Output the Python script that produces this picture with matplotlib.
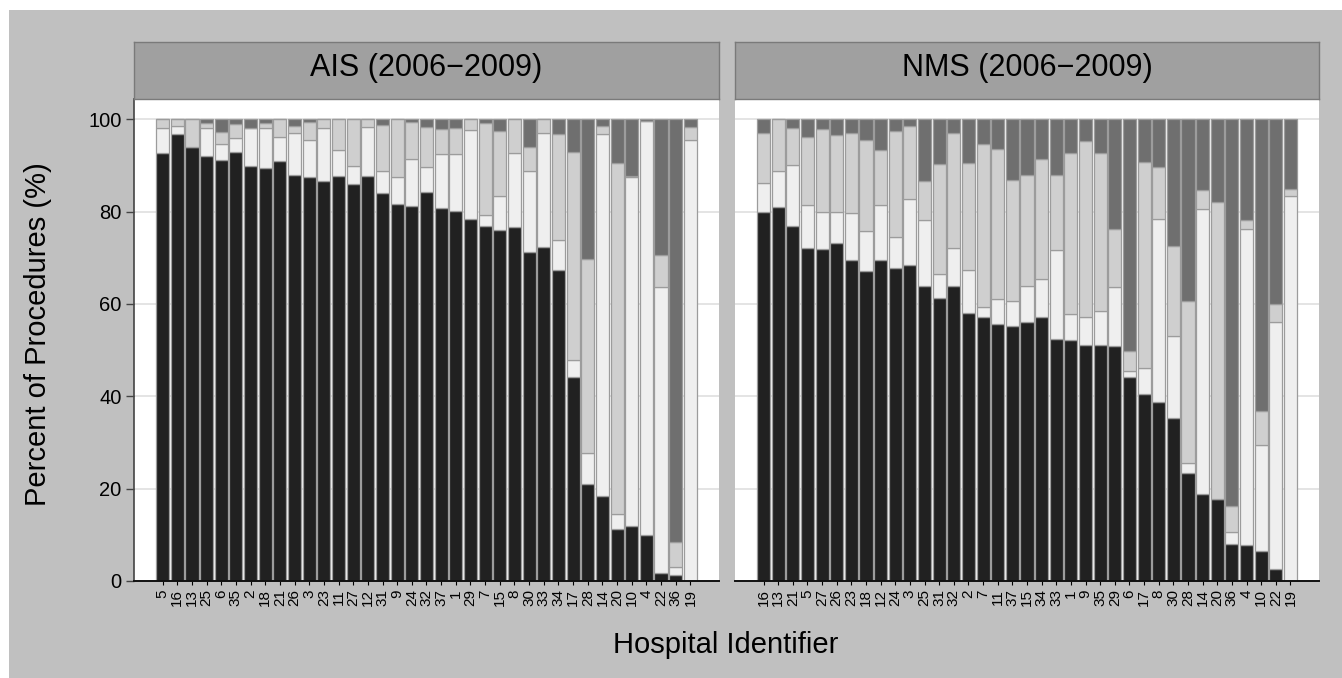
import matplotlib
matplotlib.use("Agg")
import matplotlib.pyplot as plt
import numpy as np

plt.rcParams['font.family'] = ['Liberation Sans', 'DejaVu Sans']

# hospital order per panel
ais_ids = ['5', '16', '13', '25', '6', '35', '2', '18', '21', '26', '3', '23', '11', '27', '12', '31', '9', '24', '32',
           '37', '1', '29', '7', '15', '8', '30', '33', '34', '17', '28', '14', '20', '10', '4', '22', '36', '19']
nms_ids = ['16', '13', '21', '5', '27', '26', '23', '18', '12', '24', '3', '25', '31', '32', '2', '7', '11', '37', '15',
           '34', '33', '1', '9', '35', '29', '6', '17', '8', '30', '28', '14', '20', '36', '4', '10', '22', '19']

# AIS (2006-2009), percent of procedures, bottom to top
ais_black = [92.6, 96.8, 94.0, 92.1, 91.1, 93.0, 89.8, 89.5, 91.0, 88.0, 87.5, 86.6, 87.8, 86.0, 87.7, 84.1, 81.7, 81.2, 84.2,
             80.7, 80.1, 78.4, 76.8, 76.1, 76.6, 71.2, 72.3, 67.4, 44.2, 21.1, 18.5, 11.2, 11.9, 10.0, 1.7, 1.4, 0.0]
ais_white = [5.5, 1.7, 0.0, 6.1, 3.6, 3.0, 8.4, 8.7, 5.2, 9.0, 8.1, 11.6, 5.6, 3.8, 10.6, 4.7, 5.7, 10.1, 5.5,
             11.7, 12.3, 19.2, 2.4, 7.3, 16.0, 17.7, 24.7, 6.4, 3.6, 6.7, 78.4, 3.4, 75.5, 89.6, 62.0, 1.7, 95.5]
ais_light = [1.9, 1.5, 6.0, 1.0, 2.6, 2.9, 0.0, 1.0, 3.8, 1.5, 3.8, 1.8, 6.6, 10.2, 1.7, 9.9, 12.6, 8.1, 8.6,
             5.6, 5.7, 2.4, 20.1, 14.1, 7.4, 5.1, 3.0, 23.0, 45.1, 41.9, 1.7, 75.9, 0.4, 0.0, 6.9, 5.3, 2.8]
ais_dark = [0.0, 0.0, 0.0, 0.8, 2.7, 1.1, 1.8, 0.8, 0.0, 1.5, 0.6, 0.0, 0.0, 0.0, 0.0, 1.3, 0.0, 0.6, 1.7,
            2.0, 1.9, 0.0, 0.7, 2.5, 0.0, 6.0, 0.0, 3.2, 7.1, 30.3, 1.4, 9.5, 12.2, 0.4, 29.4, 91.6, 1.7]

# NMS (2006-2009)
nms_black = [79.9, 81.0, 76.9, 72.2, 71.9, 73.2, 69.5, 67.2, 69.6, 67.7, 68.5, 63.9, 61.3, 63.8, 58.1, 57.1, 55.7, 55.3, 56.0,
             57.1, 52.4, 52.2, 51.2, 51.2, 50.8, 44.1, 40.4, 38.7, 35.3, 23.3, 18.8, 17.8, 8.0, 7.8, 6.6, 2.6, 0.0]
nms_white = [6.4, 7.8, 13.3, 9.2, 8.0, 6.7, 10.1, 8.6, 11.9, 6.8, 14.3, 14.2, 5.3, 8.4, 9.2, 2.3, 5.3, 5.4, 7.9,
             8.3, 19.4, 5.7, 5.9, 7.2, 12.8, 1.4, 5.8, 39.8, 17.7, 2.2, 61.7, 0.0, 2.6, 68.4, 22.8, 53.4, 83.3]
nms_light = [10.8, 11.2, 7.9, 14.8, 17.9, 16.6, 17.4, 19.8, 11.8, 22.9, 15.7, 8.6, 23.7, 24.9, 23.2, 35.2, 32.6, 26.1, 24.0,
             26.1, 16.2, 34.8, 38.1, 34.2, 12.7, 4.4, 44.6, 11.2, 19.5, 35.1, 4.1, 64.2, 5.6, 2.1, 7.5, 4.1, 1.5]
nms_dark = [2.9, 0.0, 1.9, 3.8, 2.2, 3.5, 3.0, 4.4, 6.7, 2.6, 1.5, 13.3, 9.7, 2.9, 9.5, 5.4, 6.4, 13.2, 12.1,
            8.5, 12.0, 7.3, 4.8, 7.4, 23.7, 50.1, 9.2, 10.3, 27.5, 39.4, 15.4, 18.0, 83.8, 21.7, 63.1, 39.9, 15.2]

panels = [
    ('AIS (2006\u22122009)', ais_ids, [ais_black, ais_white, ais_light, ais_dark]),
    ('NMS (2006\u22122009)', nms_ids, [nms_black, nms_white, nms_light, nms_dark]),
]
fill_cols = ['#212121', '#efefef', '#cfcfcf', '#6f6f6f']

W, H = 1342, 678
fig = plt.figure(figsize=(W / 100, H / 100), dpi=100)
fig.patch.set_facecolor('white')
# gray plot background (white margin on top/left only)
fig.add_artist(plt.Rectangle((9 / W, 0), 1, 1 - 10 / H, transform=fig.transFigure,
                             facecolor='#c0c0c0', edgecolor='none', zorder=0))

lefts = [134, 735]
widths = [585, 584]
ax_top, ax_bot = 99, 581
strip_top = 42

for k, (title, ids, segs) in enumerate(panels):
    ax = fig.add_axes([lefts[k] / W, (H - ax_bot) / H, widths[k] / W, (ax_bot - ax_top) / H])
    ax.set_facecolor('white')
    x = np.arange(len(ids))
    bottom = np.zeros(len(ids))
    for vals, col in zip(segs, fill_cols):
        vals = np.array(vals)
        ax.bar(x, vals, bottom=bottom, width=0.9, color=col, edgecolor='#9c9c9c', linewidth=0.9, zorder=2)
        bottom = bottom + vals
    ax.set_xlim(-1.95, len(ids) - 1 + 1.95)
    ax.set_ylim(0, 104.4)
    ax.set_yticks([0, 20, 40, 60, 80, 100])
    ax.yaxis.grid(True, color='#e2e2e2', linewidth=1.3, zorder=0)
    ax.set_axisbelow(True)
    ax.set_xticks(x)
    ax.set_xticklabels(ids, rotation=90, fontsize=11)
    ax.tick_params(axis='x', length=3, width=0.8, pad=3, color='black')
    for s in ['top', 'right']:
        ax.spines[s].set_visible(False)
    ax.spines['bottom'].set_color('#111111')
    ax.spines['bottom'].set_linewidth(1.4)
    if k == 0:
        ax.spines['left'].set_color('#444444')
        ax.spines['left'].set_linewidth(1.2)
        ax.tick_params(axis='y', length=6, width=1.0, pad=3, labelsize=14.5, color='#444444')
    else:
        ax.spines['left'].set_visible(False)
        ax.tick_params(axis='y', length=0, labelleft=False)

    # facet strip
    sax = fig.add_axes([lefts[k] / W, (H - ax_top) / H, widths[k] / W, (ax_top - strip_top) / H])
    sax.set_facecolor('#a0a0a0')
    sax.set_xticks([])
    sax.set_yticks([])
    for s in sax.spines.values():
        s.set_color('#7a7a7a')
        s.set_linewidth(1.0)
    sax.text(0.5, 0.54, title, ha='center', va='center', fontsize=22, transform=sax.transAxes)

fig.text(38 / W, 1 - 334 / H, 'Percent of Procedures (%)', rotation=90, ha='center', va='center', fontsize=21)
fig.text(726 / W, 1 - 645 / H, 'Hospital Identifier', ha='center', va='center', fontsize=21)

fig.savefig('out.png', dpi=100)
